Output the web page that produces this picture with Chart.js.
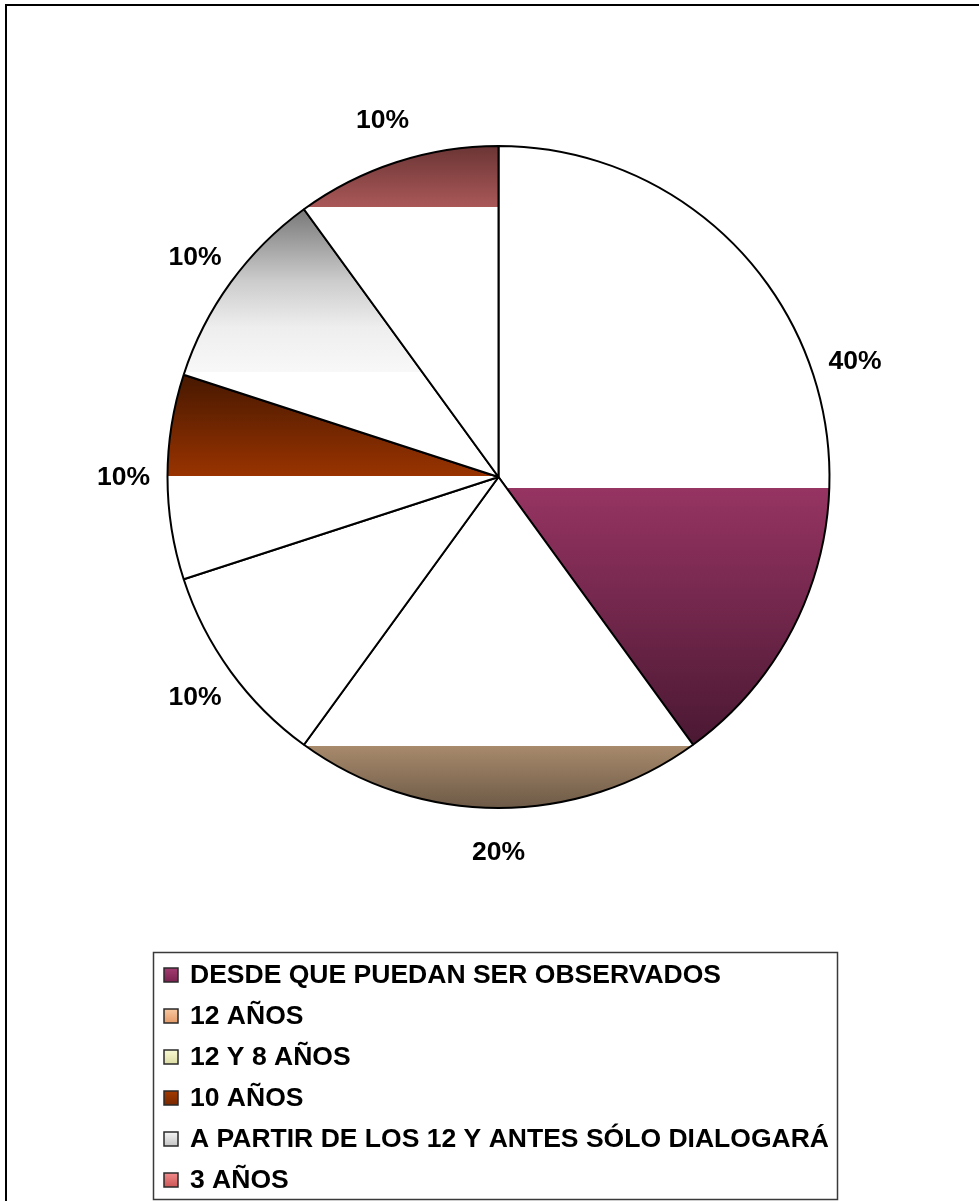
<!DOCTYPE html>
<html>
<head>
<meta charset="utf-8">
<title>Edad</title>
<script src="https://cdn.jsdelivr.net/npm/chart.js@4.4.1/dist/chart.umd.min.js"></script>
<style>
  html, body { margin: 0; padding: 0; background: #fff; }
  #grafico { display: block; }
</style>
</head>
<body>
<canvas id="grafico" width="979" height="1201"></canvas>
<script>
// datos del grafico
const categorias = [
  "DESDE QUE PUEDAN SER OBSERVADOS",
  "12 AÑOS",
  "12 Y 8 AÑOS",
  "10 AÑOS",
  "A PARTIR DE LOS 12 Y ANTES SÓLO DIALOGARÁ",
  "3 AÑOS"
];
const valores = [40, 20, 10, 10, 10, 10];

// relleno de cada porcion: franjas verticales (fraccion del radio desde el centro, color)
const rellenos = [
  [[0.033, "#963462"], [0.81, "#4a1832"]],
  [[0.81, "#a88a6c"], [1.0, "#6c5946"]],
  null,
  [[-0.31, "#461800"], [-0.003, "#993300"]],
  [[-0.81, "#777777"], [-0.59, "#cccccc"], [-0.45, "#eeeeee"], [-0.316, "#f8f8f8"]],
  [[-1.0, "#6a3434"], [-0.813, "#aa5858"]]
];
// colores de la leyenda (arriba, abajo)
const coloresLeyenda = [
  ["#a33c70", "#7a2250"],
  ["#f8c8a0", "#e49a68"],
  ["#fafad4", "#dcdca4"],
  ["#a33a00", "#7a2800"],
  ["#f6f6f6", "#c4c4c4"],
  ["#f28a8a", "#cc5656"]
];

const fuente = 'bold 25.5px "Liberation Sans", Arial, sans-serif';
const estirar = 1.04;

function relleno(context) {
  const chart = context.chart;
  const area = chart.chartArea;
  if (!area) return "#ffffff";
  const banda = rellenos[context.dataIndex];
  if (!banda) return "#ffffff";
  const cy = (area.top + area.bottom) / 2;
  const r = Math.min(area.width, area.height) / 2;
  const g = chart.ctx.createLinearGradient(0, cy - r, 0, cy + r);
  const t = f => Math.min(1, Math.max(0, (f + 1) / 2));
  const primero = banda[0], ultimo = banda[banda.length - 1];
  g.addColorStop(0, "#ffffff");
  g.addColorStop(t(primero[0]), "#ffffff");
  banda.forEach(s => g.addColorStop(t(s[0]), s[1]));
  g.addColorStop(t(ultimo[0]), "#ffffff");
  g.addColorStop(1, "#ffffff");
  return g;
}

// marco de la imagen
const marco = {
  id: "marco",
  beforeDraw(chart) {
    const ctx = chart.ctx;
    ctx.save();
    ctx.fillStyle = "#ffffff";
    ctx.fillRect(0, 0, chart.width, chart.height);
    ctx.strokeStyle = "#000000";
    ctx.lineWidth = 2;
    ctx.strokeRect(6, 5, chart.width + 20, chart.height + 20);
    ctx.restore();
  }
};

// porcentajes alrededor del pastel
const etiquetas = {
  id: "etiquetas",
  afterDatasetsDraw(chart) {
    const ctx = chart.ctx;
    const meta = chart.getDatasetMeta(0);
    const total = valores.reduce((a, b) => a + b, 0);
    ctx.save();
    ctx.font = fuente;
    ctx.fillStyle = "#000000";
    ctx.textAlign = "center";
    ctx.textBaseline = "middle";
    meta.data.forEach((arc, i) => {
      const p = arc.getProps(["x", "y", "startAngle", "endAngle", "outerRadius"], true);
      const medio = (p.startAngle + p.endAngle) / 2;
      const d = p.outerRadius + 44;
      const x = p.x + Math.cos(medio) * d;
      const y = p.y + Math.sin(medio) * d;
      ctx.save();
      ctx.translate(x, y + 1);
      ctx.scale(estirar, 1);
      ctx.fillText(Math.round(valores[i] / total * 100) + "%", 0, 0);
      ctx.restore();
    });
    ctx.restore();
  }
};

// leyenda en recuadro debajo del pastel
const leyenda = {
  id: "leyenda",
  afterDraw(chart) {
    const ctx = chart.ctx;
    const caja = { x: 153.5, y: 952.5, w: 684, h: 247 };
    ctx.save();
    ctx.strokeStyle = "#3a3a3a";
    ctx.lineWidth = 1.5;
    ctx.strokeRect(caja.x, caja.y, caja.w, caja.h);
    ctx.font = fuente;
    ctx.textBaseline = "middle";
    ctx.textAlign = "left";
    categorias.forEach((nombre, i) => {
      const y = 975 + i * 41;
      const g = ctx.createLinearGradient(0, y - 7, 0, y + 7);
      g.addColorStop(0, coloresLeyenda[i][0]);
      g.addColorStop(1, coloresLeyenda[i][1]);
      ctx.fillStyle = g;
      ctx.fillRect(164, y - 7, 14, 14);
      ctx.strokeStyle = "#2a2a2a";
      ctx.lineWidth = 1.5;
      ctx.strokeRect(164, y - 7, 14, 14);
      ctx.fillStyle = "#000000";
      ctx.save();
      ctx.translate(190, y + 1);
      ctx.scale(estirar, 1);
      ctx.fillText(nombre, 0, 0);
      ctx.restore();
    });
    ctx.restore();
  }
};

new Chart(document.getElementById("grafico"), {
  type: "pie",
  data: {
    labels: categorias,
    datasets: [{
      data: valores,
      backgroundColor: relleno,
      borderColor: "#000000",
      borderWidth: 2
    }]
  },
  options: {
    responsive: false,
    animation: false,
    layout: { padding: { left: 166, right: 148, top: 145, bottom: 392 } },
    plugins: {
      legend: { display: false },
      tooltip: { enabled: false }
    }
  },
  plugins: [marco, etiquetas, leyenda]
});
</script>
</body>
</html>
